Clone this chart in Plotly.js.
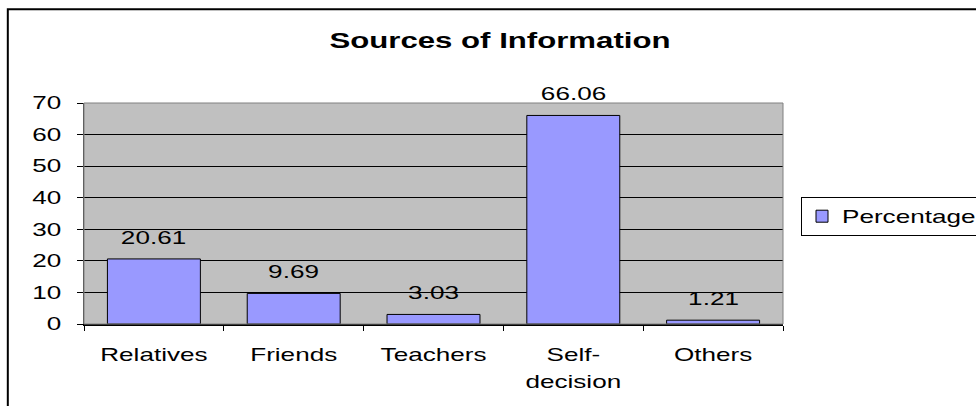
<!DOCTYPE html>
<html>
<head>
<meta charset="utf-8">
<script src="https://cdn.plot.ly/plotly-3.0.1.min.js"></script>
<style>html,body{margin:0;padding:0;background:#fff;}#chart{width:976px;height:406px;}</style>
</head>
<body>
<div id="chart"></div>
<script>
var categories = ["Relatives", "Friends", "Teachers", "Self-<br>decision", "Others"];
var percentages = [20.61, 9.69, 3.03, 66.06, 1.21];
var valueLabels = ["20.61", "9.69", "3.03", "66.06", "1.21"];
var seriesName = "Percentage";
var yTicks = [0, 10, 20, 30, 40, 50, 60, 70];

var FONT = "Liberation Sans, Arial, sans-serif";
var TEXT_STRETCH = 1.45;

var trace = {
  type: "bar",
  x: categories,
  y: percentages,
  name: seriesName,
  width: 0.665,
  marker: {color: "#9999FF", line: {color: "#000000", width: 1}},
  hoverinfo: "none"
};

var annotations = categories.map(function (c, i) {
  return {
    x: c, y: percentages[i], xref: "x", yref: "y",
    text: valueLabels[i], showarrow: false,
    yanchor: "middle", yshift: 21,
    font: {family: FONT, size: 18, color: "#000"}
  };
});

var layout = {
  width: 976, height: 406,
  margin: {l: 84, r: 193, t: 103, b: 82, pad: 0},
  paper_bgcolor: "#ffffff",
  plot_bgcolor: "#C0C0C0",
  font: {family: FONT, size: 18, color: "#000"},
  title: {
    text: "<b>Sources of Information</b>",
    font: {family: FONT, size: 21.5, color: "#000"},
    x: 500 / 976, xanchor: "center", xref: "container",
    y: 1 - 40 / 406, yanchor: "middle", yref: "container"
  },
  showlegend: true,
  legend: {
    x: (801 - 84) / 699, xanchor: "left", y: (324 - 197) / 221, yanchor: "top",
    bgcolor: "#ffffff", bordercolor: "#000000", borderwidth: 1,
    font: {family: FONT, size: 18, color: "#000"},
    itemwidth: 30
  },
  xaxis: {
    type: "category",
    tickson: "boundaries",
    ticks: "outside", ticklen: 5, tickcolor: "#000", tickwidth: 1,
    showline: true, linecolor: "#000", linewidth: 2,
    showgrid: false, zeroline: false,
    ticklabelstandoff: 13,
    tickfont: {family: FONT, size: 18, color: "#000"},
    fixedrange: true
  },
  yaxis: {
    range: [0, 70],
    tickvals: yTicks,
    ticktext: yTicks.map(String),
    ticks: "outside", ticklen: 6, tickcolor: "#000", tickwidth: 1,
    showline: true, linecolor: "#404040", linewidth: 1,
    showgrid: true, gridcolor: "#000000", gridwidth: 1,
    zeroline: false,
    ticklabelstandoff: 12,
    tickfont: {family: FONT, size: 18, color: "#000"},
    fixedrange: true
  },
  shapes: [
    {type: "rect", xref: "paper", yref: "paper", x0: 0, x1: 1, y0: 0, y1: 1,
     line: {color: "#808080", width: 1}, fillcolor: "rgba(0,0,0,0)", layer: "above"},
    {type: "rect", xref: "paper", yref: "paper", x0: -0.109, x1: 1.6, y0: -0.6, y1: 1.424,
     line: {color: "#000000", width: 2}, fillcolor: "rgba(0,0,0,0)", layer: "below"}
  ],
  annotations: annotations
};

function widenText(gd, sx) {
  // looser line spacing for two-line category labels
  gd.querySelectorAll(".xtick text tspan.line").forEach(function (ts) {
    var dy = ts.getAttribute("dy");
    if (dy && dy.indexOf("1.3em") === 0) ts.setAttribute("dy", "1.5em");
  });
  // the reference text is horizontally stretched
  gd.querySelectorAll("svg text").forEach(function (t) {
    var bb = t.getBBox();
    if (!bb.width) return;
    var anchor = t.getAttribute("text-anchor") || window.getComputedStyle(t).textAnchor || "start";
    var ox = anchor === "middle" ? bb.x + bb.width / 2 : anchor === "end" ? bb.x + bb.width : bb.x;
    var tr = t.getAttribute("transform") || "";
    t.setAttribute("transform", tr + " translate(" + ox + ",0) scale(" + sx + ",1) translate(" + (-ox) + ",0)");
  });
  // the legend box runs off the right edge in the reference
  gd.querySelectorAll("clipPath[id*='legend'] rect").forEach(function (r) { r.setAttribute("width", 400); });
  gd.querySelectorAll(".legend rect.bg").forEach(function (r) { r.setAttribute("width", 400); });
}

var gd = document.getElementById("chart");
Plotly.newPlot(gd, [trace], layout, {displayModeBar: false, staticPlot: true}).then(function () {
  widenText(gd, TEXT_STRETCH);
});
</script>
</body>
</html>
